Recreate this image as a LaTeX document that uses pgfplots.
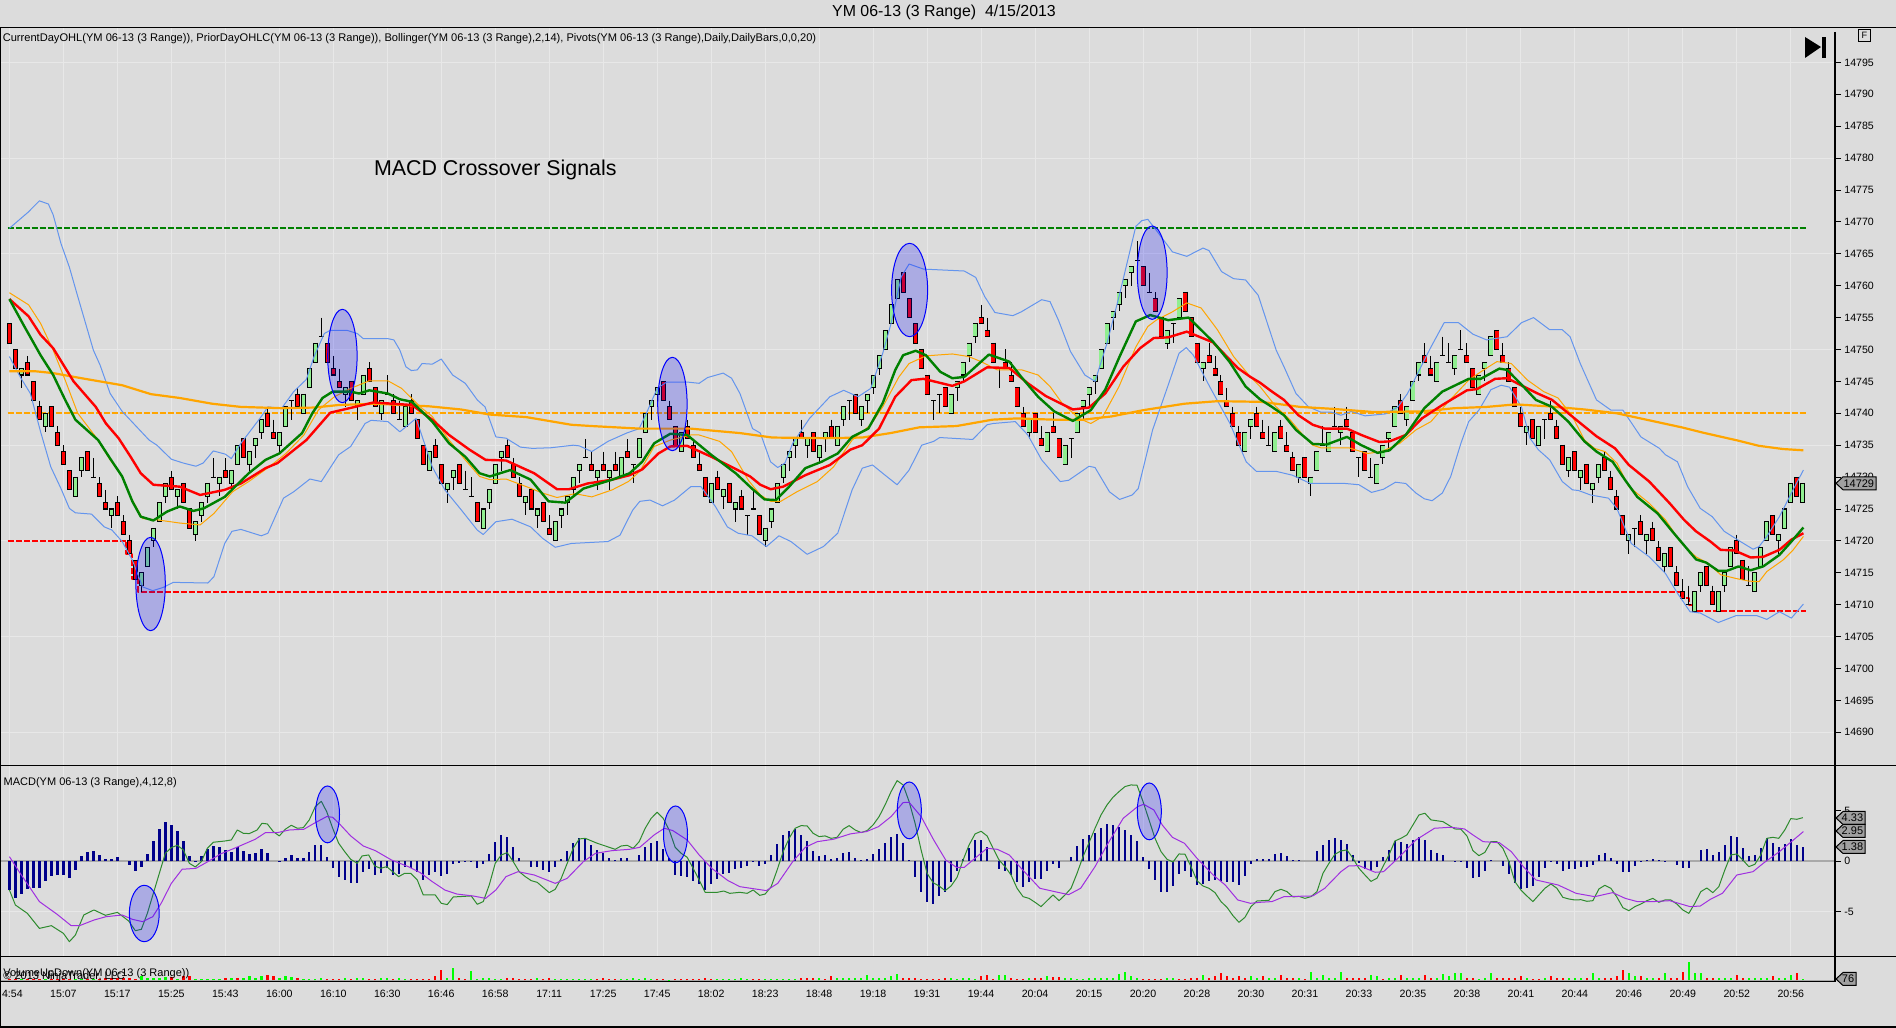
\documentclass[border=0pt]{standalone}
\usepackage{fontspec}
\setmainfont{Liberation Sans}
\usepackage{pgfplots}
\usepackage{pgfplotstable}
\pgfplotsset{compat=1.18}
\definecolor{bgc}{HTML}{DCDCDC}
\definecolor{gridc}{HTML}{E8E8E8}
\definecolor{bolc}{HTML}{6495ED}
\definecolor{orc}{HTML}{FFA500}
\definecolor{grn}{HTML}{008000}
\definecolor{upc}{HTML}{90EE90}
\definecolor{macdg}{HTML}{2E8B2E}
\definecolor{macdp}{HTML}{A030E0}
\definecolor{histc}{HTML}{00008B}
\definecolor{zeroc}{HTML}{A9A9A9}
\definecolor{tagc}{HTML}{A0A0A0}
\newcommand\fs[1]{\fontsize{#1}{#1}\selectfont}
\pgfplotstableread{
i o h l c
0 14754 14754 14751 14751
1 14750 14750 14747 14747
3 14748 14749 14746 14746
4 14745 14745 14742 14742
5 14741 14742 14739 14739
7 14741 14741 14738 14738
8 14737 14738 14735 14735
9 14734 14735 14732 14732
10 14731 14731 14728 14728
13 14734 14734 14731 14731
15 14729 14730 14727 14727
16 14726 14728 14725 14725
18 14726 14727 14724 14724
19 14723 14724 14721 14721
20 14720 14721 14718 14718
21 14717 14717 14714 14714
27 14730 14731 14728 14728
29 14729 14729 14726 14726
30 14725 14725 14722 14722
36 14731 14733 14730 14730
39 14736 14736 14733 14733
43 14740 14741 14738 14738
44 14737 14739 14736 14736
48 14743 14744 14741 14741
53 14751 14751 14748 14748
54 14747 14749 14746 14746
55 14745 14747 14744 14744
57 14745 14745 14742 14742
60 14747 14748 14745 14745
61 14744 14744 14741 14741
64 14742 14743 14740 14740
67 14742 14743 14740 14740
68 14739 14739 14736 14736
69 14735 14735 14732 14732
71 14735 14736 14733 14733
72 14732 14732 14729 14729
75 14732 14732 14729 14729
78 14726 14726 14723 14723
83 14735 14736 14733 14733
84 14732 14733 14730 14730
85 14729 14730 14727 14727
87 14728 14728 14725 14725
89 14726 14726 14723 14723
90 14722 14724 14721 14721
97 14732 14734 14731 14731
99 14732 14734 14731 14731
101 14732 14734 14731 14731
103 14734 14736 14733 14733
109 14745 14745 14742 14742
110 14741 14742 14739 14739
111 14738 14738 14735 14735
113 14738 14739 14736 14736
114 14735 14736 14733 14733
115 14732 14734 14731 14731
116 14730 14730 14727 14727
118 14730 14731 14728 14728
120 14729 14729 14726 14726
122 14727 14728 14725 14725
125 14724 14724 14721 14721
132 14737 14739 14736 14736
134 14737 14737 14734 14734
137 14738 14739 14736 14736
141 14743 14743 14740 14740
149 14762 14762 14759 14759
150 14758 14758 14755 14755
151 14754 14754 14751 14751
152 14750 14750 14747 14747
153 14746 14746 14743 14743
156 14744 14744 14741 14741
162 14755 14757 14754 14754
163 14753 14755 14752 14752
164 14751 14751 14748 14748
166 14748 14750 14747 14747
167 14746 14748 14745 14745
168 14744 14744 14741 14741
169 14740 14741 14738 14738
171 14740 14740 14737 14737
172 14736 14738 14735 14735
174 14738 14740 14737 14737
175 14736 14736 14733 14733
189 14763 14763 14760 14760
191 14758 14759 14756 14756
192 14755 14755 14752 14752
196 14759 14759 14756 14756
197 14755 14755 14752 14752
198 14751 14751 14748 14748
200 14749 14751 14748 14748
201 14747 14749 14746 14746
202 14745 14746 14743 14743
203 14742 14744 14741 14741
204 14740 14741 14738 14738
205 14737 14738 14735 14735
208 14740 14741 14738 14738
209 14737 14739 14736 14736
212 14738 14739 14736 14736
213 14735 14737 14734 14734
214 14733 14734 14731 14731
216 14733 14733 14730 14730
223 14739 14741 14738 14738
224 14737 14737 14734 14734
226 14734 14734 14731 14731
232 14742 14743 14740 14740
236 14749 14751 14748 14748
237 14747 14749 14746 14746
243 14749 14751 14748 14748
244 14747 14747 14744 14744
248 14753 14753 14750 14750
249 14749 14751 14748 14748
250 14747 14748 14745 14745
251 14744 14744 14741 14741
252 14740 14741 14738 14738
254 14739 14739 14736 14736
257 14740 14742 14739 14739
258 14738 14739 14736 14736
259 14735 14735 14732 14732
261 14734 14734 14731 14731
263 14732 14732 14729 14729
266 14733 14734 14731 14731
267 14730 14731 14728 14728
268 14727 14728 14725 14725
269 14724 14724 14721 14721
272 14723 14724 14721 14721
274 14722 14723 14720 14720
275 14719 14720 14717 14717
277 14719 14719 14716 14716
278 14715 14716 14713 14713
279 14712 14714 14711 14711
283 14716 14716 14713 14713
284 14712 14713 14710 14710
288 14720 14721 14718 14718
289 14717 14717 14714 14714
294 14724 14724 14721 14721
298 14730 14730 14727 14727
}\redbars
\pgfplotstableread{
i o h l c
2 14746 14747 14744 14747
6 14738 14740 14737 14740
11 14727 14730 14727 14730
12 14731 14733 14730 14733
17 14724 14725 14722 14725
22 14713 14715 14712 14715
23 14716 14719 14716 14719
24 14720 14722 14719 14722
25 14723 14726 14723 14726
26 14727 14729 14726 14729
28 14727 14728 14725 14728
31 14721 14723 14720 14723
32 14724 14726 14723 14726
33 14727 14729 14726 14729
35 14729 14730 14727 14730
37 14729 14731 14728 14731
38 14732 14735 14732 14735
40 14732 14734 14731 14734
41 14735 14736 14733 14736
42 14737 14739 14736 14739
45 14735 14737 14734 14737
46 14738 14741 14738 14741
49 14740 14743 14740 14743
50 14744 14747 14744 14747
51 14748 14751 14748 14751
56 14743 14744 14741 14744
58 14741 14742 14739 14742
59 14743 14746 14743 14746
62 14740 14742 14739 14742
66 14738 14741 14738 14741
70 14731 14734 14731 14734
73 14728 14729 14726 14729
74 14730 14731 14728 14731
79 14722 14725 14722 14725
80 14726 14728 14725 14728
81 14729 14732 14729 14732
82 14733 14734 14731 14734
86 14726 14727 14724 14727
88 14724 14725 14722 14725
91 14720 14723 14720 14723
92 14724 14725 14722 14725
93 14726 14727 14724 14727
94 14728 14730 14727 14730
95 14731 14732 14729 14732
98 14730 14731 14728 14731
100 14730 14731 14728 14731
102 14730 14733 14730 14733
105 14733 14736 14733 14736
106 14737 14740 14737 14740
107 14741 14742 14739 14742
108 14743 14744 14741 14744
112 14734 14737 14734 14737
117 14726 14729 14726 14729
119 14727 14728 14725 14728
121 14725 14726 14723 14726
126 14720 14722 14719 14722
127 14723 14725 14722 14725
128 14726 14729 14726 14729
129 14730 14732 14729 14732
130 14733 14734 14731 14734
131 14735 14736 14733 14736
133 14735 14736 14733 14736
135 14733 14735 14732 14735
136 14736 14737 14734 14737
138 14735 14738 14735 14738
139 14739 14741 14738 14741
142 14739 14741 14738 14741
143 14742 14743 14740 14743
144 14744 14746 14743 14746
145 14747 14749 14746 14749
146 14750 14753 14750 14753
147 14754 14757 14754 14757
148 14758 14761 14758 14761
157 14740 14743 14740 14743
158 14744 14745 14742 14745
159 14746 14748 14745 14748
160 14749 14751 14748 14751
161 14752 14754 14751 14754
170 14737 14739 14736 14739
173 14734 14737 14734 14737
176 14732 14735 14732 14735
178 14737 14740 14737 14740
179 14741 14742 14739 14742
180 14743 14744 14741 14744
181 14745 14746 14743 14746
182 14747 14750 14747 14750
183 14751 14754 14751 14754
184 14755 14756 14753 14756
185 14757 14759 14756 14759
186 14760 14761 14758 14761
187 14762 14763 14760 14763
193 14751 14753 14750 14753
195 14755 14758 14755 14758
199 14747 14748 14745 14748
206 14734 14737 14734 14737
207 14738 14739 14736 14739
211 14734 14737 14734 14737
215 14730 14732 14729 14732
217 14729 14730 14727 14730
218 14731 14734 14731 14734
220 14734 14737 14734 14737
222 14737 14738 14735 14738
228 14729 14732 14729 14732
229 14733 14735 14732 14735
230 14736 14737 14734 14737
231 14738 14741 14738 14741
233 14739 14741 14738 14741
234 14742 14745 14742 14745
235 14746 14748 14745 14748
238 14745 14748 14745 14748
241 14747 14749 14746 14749
245 14743 14746 14743 14746
246 14747 14748 14745 14748
247 14749 14752 14749 14752
253 14737 14738 14735 14738
255 14735 14738 14735 14738
260 14731 14733 14730 14733
262 14730 14731 14728 14731
264 14728 14729 14726 14729
265 14730 14732 14729 14732
270 14720 14721 14718 14721
273 14720 14721 14718 14721
276 14716 14718 14715 14718
281 14709 14712 14709 14712
282 14713 14715 14712 14715
285 14709 14712 14709 14712
286 14713 14715 14712 14715
287 14716 14719 14716 14719
291 14712 14715 14712 14715
292 14716 14719 14716 14719
293 14720 14723 14720 14723
295 14720 14721 14718 14721
296 14722 14725 14722 14725
297 14726 14729 14726 14729
299 14726 14729 14726 14729
}\greenbars
\pgfplotstableread{
i o h l c
14 14730 14733 14730 14730
34 14730 14733 14730 14730
47 14742 14742 14739 14742
52 14752 14755 14752 14752
63 14743 14746 14743 14743
65 14739 14742 14739 14739
76 14728 14731 14728 14728
77 14727 14730 14727 14727
96 14733 14736 14733 14733
104 14732 14732 14729 14732
123 14724 14724 14721 14724
124 14725 14728 14725 14725
140 14742 14742 14739 14742
154 14742 14742 14739 14742
155 14743 14743 14740 14743
165 14747 14747 14744 14747
177 14736 14736 14733 14736
188 14764 14767 14764 14764
190 14759 14762 14759 14759
194 14754 14754 14751 14754
210 14735 14738 14735 14735
219 14735 14738 14735 14735
221 14738 14741 14738 14738
225 14733 14733 14730 14733
227 14730 14733 14730 14730
239 14749 14752 14749 14749
240 14748 14751 14748 14748
242 14750 14753 14750 14750
256 14739 14739 14736 14739
271 14722 14722 14719 14722
280 14710 14713 14710 14710
290 14713 14716 14713 14713
}\dojibars
\pgfplotstableread{
x y
0 14769.0
3.1 14771.5
5 14773.3
6.5 14772.8
7.3 14771.1
8.6 14766.6
10 14762.9
11.4 14758.3
12.7 14754.1
14 14749.9
15.1 14747.6
16.8 14743.1
18.8 14740.3
20.9 14738.2
23.3 14735.8
24.6 14735.0
27 14732.8
29 14732.2
31.1 14731.7
32.3 14732.2
34 14734.1
36 14733.6
37 14732.9
38.6 14735.3
39.9 14736.9
42 14739.5
43.1 14741.0
45.4 14740.8
47.4 14743.4
49.5 14745.3
50.8 14748.9
52.5 14752.5
53.5 14753.0
56.3 14753.0
58 14752.5
59 14751.7
63.1 14751.7
64.1 14751.5
65.1 14749.9
66.1 14747.3
67 14746.7
68 14746.8
68.8 14747.8
70.5 14747.7
72 14748.5
73.9 14746.0
76 14744.7
78 14742.1
79.3 14741.0
81.1 14736.3
82.8 14736.1
85.2 14734.7
87.2 14734.5
90.3 14734.6
94 14735.0
95 14734.9
97.1 14734.0
99.8 14735.6
102.9 14736.9
105 14737.6
106.2 14740.0
108 14743.9
109.6 14744.9
113 14744.9
115 14744.7
116.4 14745.6
119 14746.3
120.4 14745.5
121.8 14743.1
123.9 14737.6
125.2 14736.9
126.9 14732.4
128.1 14731.5
129.3 14732.2
130.6 14735.3
133.4 14739.2
136.8 14742.6
139.1 14743.6
141.5 14742.6
143.6 14743.9
145.6 14749.4
147 14754.1
148.7 14761.4
150 14763.4
152.4 14762.6
159.2 14762.3
161.1 14761.3
162.6 14758.3
164.3 14755.8
167.3 14755.3
168.7 14755.9
172.1 14757.8
173.5 14757.5
174.9 14754.6
176.9 14749.7
179.3 14746.0
181 14745.0
183 14751.0
185 14758.3
187.8 14769.3
188.8 14770.2
189.8 14770.4
191.2 14768.7
193.9 14765.3
196.3 14764.6
199 14765.9
200 14765.5
202.1 14762.2
204.1 14761.1
206.1 14760.9
208.2 14758.5
211.2 14749.9
212.5 14747.3
214.5 14743.1
216.6 14741.0
218.6 14740.2
220.3 14740.2
222 14739.7
223.7 14740.3
226 14739.6
229.4 14739.9
231.5 14741.0
233.1 14743.1
234.5 14745.7
236.9 14750.2
239.2 14754.2
241.6 14754.2
244 14752.4
246.3 14751.5
249.7 14752.0
252.1 14754.2
254.1 14755.0
256.8 14753.1
258.9 14753.1
260.2 14752.0
261.9 14747.8
264.6 14742.1
267 14740.5
269 14740.5
272 14736.3
275.1 14734.5
276.1 14733.5
278.1 14732.4
279.8 14728.5
281.9 14725.1
283.9 14723.8
285.9 14721.5
288.6 14719.9
290.7 14718.7
291.7 14719.1
293 14720.7
295.1 14723.8
297.1 14727.5
299.1 14731.1
}\bolup
\pgfplotstableread{
x y
0 14748.9
1.8 14745.7
3.5 14743.1
5.2 14737.1
6.9 14731.6
8.6 14728.2
10 14725.1
11 14724.4
13.7 14724.2
15.8 14722.2
17.1 14721.7
18.8 14719.9
20.5 14717.0
22.2 14712.8
23.9 14712.2
25.6 14712.7
27.3 14713.5
33.1 14713.4
34.1 14714.4
35.9 14719.6
37.1 14721.5
38.6 14721.8
42 14720.8
43.1 14721.2
45.7 14726.7
47.4 14727.7
50.1 14729.7
52 14729.3
54.9 14733.5
56.9 14734.8
59.3 14738.4
60.3 14738.9
63.1 14738.7
65.1 14737.1
67.8 14739.2
69.2 14735.3
70.5 14731.6
72.6 14728.0
75.3 14724.9
78 14721.7
79 14721.0
81.1 14723.0
83.8 14723.4
86.9 14722.2
88.9 14720.4
91 14719.0
93.7 14719.6
99.8 14719.9
101.8 14720.9
103.9 14724.8
105.1 14726.2
106.8 14726.4
108.9 14725.5
110.9 14726.4
113.6 14728.5
115.3 14728.5
117.7 14725.4
119.7 14722.2
121.5 14721.2
123.8 14720.8
126.2 14719.1
128.3 14720.8
130.3 14719.9
133 14717.9
135.7 14719.1
138.1 14721.2
140.5 14728.0
142.2 14731.4
143.9 14731.9
145.6 14730.6
148 14728.8
150 14731.1
152.1 14735.0
154.1 14735.6
155.1 14736.2
160.6 14735.9
163 14738.2
164 14738.4
167.7 14738.7
169.8 14736.6
172.1 14732.7
175.2 14729.3
176.6 14729.5
180 14731.7
181 14731.5
183.4 14727.7
185.1 14726.5
187.2 14727.2
188.2 14728.2
190.6 14737.4
193.3 14744.7
195 14749.4
196.2 14750.3
197.4 14749.1
200.1 14744.2
203.5 14738.4
206.2 14732.4
207.9 14730.9
211.2 14730.9
213.9 14730.3
216.9 14729.0
222.7 14729.0
225 14728.8
227.1 14727.6
229.1 14728.1
231.1 14729.2
232.8 14729.0
234.5 14727.5
235.9 14726.6
237.2 14726.3
238.9 14727.5
240.3 14730.1
242 14735.3
243.3 14738.7
245 14740.5
247 14743.7
248.7 14744.4
250.1 14744.1
252.1 14741.0
253.5 14736.1
254.9 14734.3
256.8 14732.7
258.9 14729.3
260.6 14728.0
261.6 14727.9
263.6 14727.2
266.6 14726.7
268 14725.1
270.4 14719.6
273.4 14717.5
276.1 14714.9
278.1 14711.8
280.2 14708.9
281.9 14708.7
284.9 14707.2
287.9 14708.3
291.3 14708.3
293 14707.7
295.1 14708.9
297.1 14707.9
299.1 14710.1
}\bollow
\pgfplotstableread{
x y
0 14758.9
3.2 14757.0
5.2 14754.1
7.3 14749.9
9.3 14745.2
11.4 14740.0
14.4 14736.3
16.8 14732.7
18.8 14730.1
20.2 14726.9
22.2 14723.5
24.6 14723.3
28.4 14722.8
31.8 14722.5
34.1 14724.3
37.2 14727.7
39.9 14729.3
43.3 14731.6
46.1 14733.7
49.1 14736.6
51.5 14740.5
54.2 14742.6
56.9 14743.9
60 14745.1
63.1 14745.1
65.4 14743.9
68.5 14741.0
70.5 14739.5
73.3 14735.8
76 14732.7
78.4 14730.1
80.1 14729.6
82.8 14729.7
86.2 14728.5
88.9 14727.5
91.3 14726.8
94.3 14727.4
97.1 14726.9
100.5 14728.0
103.2 14729.3
105.1 14730.9
107.5 14734.8
110.2 14735.8
113.6 14736.6
115 14736.6
118.4 14735.6
120.4 14734.0
123.2 14729.5
125.2 14727.2
126.9 14726.2
128.6 14726.2
131.3 14727.7
134.7 14729.3
137.4 14731.6
140.5 14735.8
143.6 14738.2
145.6 14741.0
148.3 14745.7
150 14747.8
152.8 14749.0
157.2 14749.3
159.9 14748.9
162 14748.1
164.7 14746.8
168.8 14746.8
171.5 14746.0
173.5 14744.2
175.5 14741.6
178.3 14739.2
180.3 14738.4
182.3 14739.5
185 14744.2
187.8 14750.4
189.8 14753.6
191.2 14754.6
193.9 14755.9
196.3 14757.3
198.7 14756.5
201.4 14753.1
204.1 14748.9
206.9 14745.7
208.5 14744.2
211.2 14741.0
213.5 14739.0
215.9 14736.3
217.3 14735.0
218.6 14734.6
223.3 14734.6
226.4 14733.7
228.8 14734.0
231.8 14735.3
234.5 14737.4
237 14738.7
239.7 14741.6
243.3 14745.2
245 14746.3
246.3 14747.1
248 14748.1
250.4 14747.8
253.1 14745.2
255.8 14743.4
258.2 14742.4
260.6 14739.5
262.6 14735.8
264.3 14734.5
266 14734.0
268 14732.2
270 14728.5
273.4 14725.9
276.1 14723.3
278.8 14719.6
281.2 14717.5
283.2 14716.5
285.3 14714.7
287.9 14714.1
290 14713.7
291.7 14713.6
293 14715.2
295.7 14717.0
297.4 14718.6
299.1 14720.7
}\bolmid
\pgfplotstableread{
x y
0 14746.6
4.2 14746.6
7.3 14746.3
12 14745.5
18.8 14744.4
23.6 14743.0
28.4 14742.4
33.8 14741.5
38.6 14741.0
45.4 14740.8
50.8 14740.9
54.9 14741.3
61 14741.5
69.9 14741.1
75.3 14740.6
80.1 14739.8
86.2 14739.4
93.7 14738.2
97.1 14738.0
105.1 14737.6
113.6 14737.6
117 14737.3
121.8 14736.9
127.2 14736.2
136.1 14736.1
142.2 14736.2
146.9 14736.9
151.7 14737.8
157.9 14738.0
163.9 14739.0
168 14739.2
174.2 14739.0
179 14739.0
183.7 14739.5
189.1 14740.5
195.9 14741.5
201.4 14741.9
208.5 14741.8
211.2 14741.5
215.2 14741.0
220.6 14740.7
227.4 14740.2
235.5 14740.3
240.9 14740.8
246.3 14741.0
251.1 14741.4
256.5 14741.1
262.6 14740.6
268 14740.0
273.4 14738.9
278.8 14737.8
282.2 14737.0
288.3 14735.7
291.7 14734.9
295.7 14734.4
299.1 14734.2
}\slowavg
\pgfplotstableread{
x y
0 14757.9
3.2 14755.2
5.2 14752.3
7.3 14750.2
9 14747.6
10.7 14745.0
14.4 14741.0
16.1 14738.4
18.2 14736.1
20.2 14733.2
21.9 14730.6
24 14728.8
28.4 14728.5
31.8 14727.2
35.9 14728.0
38.6 14729.0
42.7 14731.4
44.7 14732.2
49.5 14735.8
53.5 14740.1
57.6 14741.0
60.7 14741.7
67.1 14741.3
70.5 14739.0
73.3 14736.6
76.7 14734.3
79.4 14732.7
82.8 14732.6
87.5 14730.6
91.3 14728.1
93.3 14728.1
96.4 14729.0
100.5 14729.6
103.4 14730.3
105.5 14731.2
108.2 14733.7
110.2 14734.8
113 14734.9
117 14733.2
120.4 14731.6
123.5 14730.1
125.2 14728.8
126.9 14728.1
129 14728.5
132.7 14730.3
136.8 14731.9
140.2 14734.3
142.2 14735.0
145 14737.6
147.7 14742.6
150.4 14745.2
152.4 14745.4
157.2 14744.3
159.2 14745.0
163 14747.2
166.7 14747.1
169.8 14744.7
172.8 14742.7
177.3 14740.6
180 14740.9
182.7 14743.1
185.7 14747.3
188.5 14750.2
190.8 14751.8
193.2 14751.9
196.3 14752.8
200.7 14751.1
204.8 14747.1
206.9 14745.7
208.5 14744.8
210.5 14743.4
212.5 14742.1
214.9 14739.7
217.3 14738.2
219.3 14737.6
223 14737.6
225.4 14736.6
228.4 14735.5
230.1 14735.6
232.8 14736.6
235.5 14739.2
238.9 14741.3
243 14743.6
244.7 14743.8
247.7 14745.4
249.7 14745.5
254.8 14743.1
257.2 14742.1
261.2 14739.0
264.6 14736.4
267.7 14734.5
270 14731.9
273.4 14729.3
276.8 14725.9
279.2 14723.3
281.2 14721.5
283.6 14719.9
285.3 14718.6
287.6 14718.5
290.3 14717.4
292.4 14717.5
295.1 14718.6
297.1 14720.2
299.1 14721.2
}\redavg
\pgfplotstableread{
x y
0 14757.9
2.5 14753.6
5.2 14749.1
7.3 14746.0
9.3 14742.1
11 14739.0
14.8 14735.8
16.8 14732.9
18.8 14730.1
20.5 14726.2
21.9 14723.8
24 14723.2
26.3 14724.6
28.4 14725.4
30.7 14724.7
32.4 14725.1
35.9 14726.9
39.9 14730.6
42.7 14732.7
45 14733.7
48.8 14736.9
50.5 14740.0
52.2 14742.4
53.9 14743.4
56.9 14743.4
58.3 14743.1
60 14743.6
63.1 14743.1
65.1 14742.2
67.1 14741.8
70.5 14738.7
73.3 14735.3
76 14733.2
78.4 14730.6
80.1 14730.1
83.5 14731.1
86.9 14729.6
89.9 14726.2
92.7 14726.0
95.7 14728.2
100.5 14729.6
103.4 14730.6
105.5 14732.4
107.5 14735.3
110.2 14736.8
113 14736.6
117 14733.5
121.1 14730.6
123.8 14728.2
125.9 14726.5
127.8 14726.4
130 14728.5
132.7 14731.4
135.4 14732.4
138.1 14733.7
140.5 14736.3
143.2 14737.6
145.6 14741.6
147.7 14746.8
149 14749.1
151.1 14749.8
152.8 14749.1
155.2 14746.5
157.2 14745.5
159.2 14745.7
163.3 14749.2
166.7 14748.1
168.7 14745.7
171.5 14742.6
174.2 14740.3
177.3 14738.8
180.3 14740.5
182.7 14743.7
185.1 14748.9
187.8 14754.4
190.2 14755.4
193.2 14754.6
196.6 14755.0
200.7 14751.2
203.4 14748.1
206.1 14744.2
208.5 14742.2
210.5 14741.0
212.5 14739.7
214.5 14737.4
217.3 14735.2
219.6 14735.1
223 14736.3
225.4 14735.0
228.1 14733.8
230.1 14734.2
232.8 14736.6
235.9 14740.8
238.9 14743.4
243.3 14745.4
245.3 14745.4
248.4 14747.0
249.7 14746.8
252.4 14744.2
254.5 14742.1
257.2 14741.0
259.9 14738.7
262.6 14735.6
264.6 14734.0
267.3 14732.4
269.4 14729.5
271.4 14726.9
274.8 14724.3
277.5 14721.2
281.2 14717.1
282.9 14716.6
284.9 14715.3
286.3 14715.3
288.3 14716.0
290.3 14715.4
292.4 14716.0
295.1 14717.8
297.1 14719.9
299.1 14722.1
}\greenavg
\pgfplotstableread{
i v
0 -2.85
1 -3.61
2 -3.25
3 -2.75
4 -2.65
5 -2.65
6 -1.92
7 -1.42
8 -1.36
9 -1.36
10 -1.62
11 -.86
12 .53
13 .93
14 1.03
15 .63
16 .26
17 .26
18 .43
19 0
20 -.36
21 -.93
22 -.6
23 .7
24 2.02
25 3.21
26 3.91
27 3.61
28 3.01
29 2.02
30 .53
31 .07
32 .53
33 1.19
34 1.52
35 1.39
36 1.13
37 .96
38 1.46
39 1.03
40 .76
41 .86
42 1.23
43 .79
44 0
45 -.1
46 .3
47 .63
48 .3
49 .33
50 .96
51 1.62
52 1.62
53 .4
54 -.7
55 -1.59
56 -1.85
57 -2.19
58 -2.19
59 -1.06
60 -.76
61 -1.36
62 -1.19
63 -.7
64 -1.36
65 -1.29
66 -.53
67 -.7
68 -1.03
69 -1.85
70 -1.36
71 -1.03
72 -1.46
73 -1.26
74 -.3
75 -.2
76 -.1
77 -.1
78 -.7
79 -.3
80 .73
81 1.95
82 2.62
83 2.38
84 1.46
85 .3
86 0
87 -.53
88 -.6
89 -.86
90 -1.09
91 -.6
92 .2
93 1.03
94 1.85
95 2.35
96 2.35
97 1.62
98 1.13
99 .79
100 .36
101 .13
102 .3
103 .36
104 0
105 .63
106 1.42
107 1.85
108 2.02
109 1.23
110 .3
111 -1.36
112 -1.46
113 -1.52
114 -1.95
115 -2.25
116 -2.85
117 -2.25
118 -1.75
119 -1.26
120 -1.13
121 -.76
122 -.66
123 -.46
124 -.07
125 -.43
126 -.26
127 .63
128 1.72
129 2.62
130 3.05
131 3.18
132 2.62
133 2.02
134 1.03
135 .53
136 .63
137 .23
138 .33
139 .86
140 .93
141 .3
142 .13
143 .2
144 .73
145 1.23
146 1.85
147 2.38
148 2.72
149 1.79
150 .13
151 -1.52
152 -3.01
153 -4.07
154 -4.21
155 -3.44
156 -3.01
157 -2.09
158 -.96
159 .2
160 1.32
161 2.12
162 2.12
163 1.39
164 0
165 -.73
166 -.93
167 -1.36
168 -2.02
169 -2.55
170 -2.02
171 -1.79
172 -1.72
173 -.93
174 -.26
175 -.66
176 0
177 .4
178 1.52
179 2.22
180 2.62
181 2.85
182 3.28
183 3.71
184 3.61
185 3.41
186 3.11
187 2.62
188 2.02
189 .4
190 -.76
191 -1.85
192 -3.01
193 -3.01
194 -2.45
195 -1.26
196 -.93
197 -1.52
198 -2.35
199 -2.28
200 -1.92
201 -1.85
202 -1.92
203 -2.09
204 -2.09
205 -2.35
206 -1.46
207 -.26
208 .2
209 .2
210 .2
211 .73
212 .83
213 .53
214 .1
215 .1
216 0
217 0
218 1.03
219 1.62
220 2.12
221 2.32
222 2.12
223 1.72
224 .63
225 -.2
226 -.76
227 -.96
228 -.6
229 .43
230 1.13
231 2.02
232 1.92
233 1.72
234 2.12
235 2.42
236 2.12
237 1.13
238 .83
239 .63
240 0
241 -.07
242 -.1
243 -.66
244 -1.66
245 -1.56
246 -.96
247 .1
248 0
249 -.46
250 -1.26
251 -2.15
252 -2.75
253 -2.65
254 -2.45
255 -1.56
256 -.66
257 -.07
258 -.26
259 -.96
260 -.76
261 -.76
262 -.56
263 -.56
264 -.36
265 .63
266 .83
267 .33
268 -.26
269 -1.06
270 -1.06
271 -.46
272 -.07
273 .13
274 .23
275 .13
276 .07
277 0
278 -.36
279 -.66
280 -.66
281 0
282 1.13
283 1.23
284 .63
285 .93
286 1.62
287 2.52
288 2.42
289 1.32
290 .53
291 .63
292 1.32
293 2.32
294 1.82
295 1.42
296 1.72
297 2.22
298 1.62
299 1.38
}\macdhist
\pgfplotstableread{
x y
0 -2.85
1 -4.34
3 -5.17
5 -6.66
7 -6.39
9 -7.15
10 -7.98
11 -7.32
12.4 -5.33
14.1 -4.83
16 -5.36
18 -5.07
19.9 -5.93
21 -6.89
22 -6.75
23 -5.17
24 -3.18
25 -1.19
26 .79
27 1.36
28 1.59
29 1.13
30 -.2
31 -.56
32 -.03
33 1.29
34 1.89
36 2.02
37 2.12
38 3.11
39 2.78
40 2.75
41.3 3.11
42.1 3.77
43 3.71
44 2.95
45 2.52
46 3.18
47 3.58
48 3.28
49 3.34
50 4.11
51 5.43
52 5.96
52.9 4.93
53.9 3.28
54.9 1.79
55.9 .96
56.9 .2
58 -.2
58.8 .53
59.9 .63
60.9 -.46
61.9 -.7
62.9 -.53
63.9 -1.03
64.9 -1.52
65.9 -1.19
66.9 -1.19
68 -1.85
69 -3.34
71 -3.34
72 -4.17
73 -4.3
74 -3.54
77 -3.44
78 -4.27
79 -4.0
80 -2.35
81 -.2
82 .63
83 .86
84 -.03
85 -1.03
86 -1.52
87 -1.92
88 -2.09
90 -3.11
91 -2.78
92 -1.69
93 -.2
94 1.29
95 2.22
96 2.28
98 1.79
101 1.19
102 1.52
103 1.59
104 1.29
105 1.95
106 3.28
107 4.27
108 4.87
109 4.27
110 3.11
111 1.39
112 .79
113 .4
114 -.7
115 -1.85
116 -3.08
118 -3.08
119.1 -2.95
120.1 -3.18
121.8 -3.08
123 -3.18
124 -2.85
125.1 -3.38
126 -3.25
127 -2.52
128 -.86
129 .96
130 2.28
131 3.28
132 3.54
133 3.51
134 2.78
135 2.45
136 2.52
137 2.28
138 2.38
139 3.18
140 3.54
141 3.11
142 2.85
143 3.05
144 3.61
145 4.44
146 5.6
147 6.92
148 8.01
149 7.58
150 5.93
151 3.77
152 1.13
153 -1.19
154 -2.12
155 -2.45
156 -2.91
157 -2.45
158 -1.59
159 .13
160 1.62
161 2.72
162 2.98
163 2.52
164 1.29
165 .13
166 -.53
167 -1.36
168 -2.68
169 -3.51
170 -3.68
171 -4.07
172 -4.5
173 -3.91
174 -3.34
175 -3.91
176 -3.34
177 -2.68
178 -1.19
179 .46
180 1.85
181 3.28
182 4.6
183 5.6
184 6.36
185 6.92
186 7.42
187 7.58
188 7.55
189 5.93
190 4.11
191 2.28
192 .96
193 .2
194 -.07
195 .73
196 .7
197 -.53
198 -1.92
199 -2.45
200 -2.68
201 -3.11
202 -4.0
203 -4.57
204 -5.4
205 -6.06
206 -5.56
207 -4.5
208 -3.94
210 -3.87
211 -3.01
212 -2.78
213 -3.01
214 -3.54
215 -3.48
216 -3.68
217 -3.51
218 -3.01
219 -1.19
220 -.2
221 .7
222 1.03
223 1.13
224 .3
225 -.7
226 -1.36
227 -1.99
228 -1.69
229 -.53
230 .63
231 2.02
232 2.28
233 2.62
234 3.61
235 4.6
236 4.77
237 4.11
239 3.94
241 3.21
242 3.18
243 2.52
244 1.06
245 .56
246 .89
247 1.95
248 1.95
249 1.29
250 -.03
251 -2.02
252 -2.85
253 -3.44
254 -4.0
255 -3.34
256 -2.68
257 -2.25
258 -2.68
259 -3.58
260 -3.74
261 -3.84
262 -3.81
263 -3.97
264 -3.91
265 -2.75
266 -2.38
267 -2.68
268 -3.54
269 -4.6
270 -4.9
271 -4.5
272 -4.24
273 -3.91
274 -3.68
275 -4.07
276 -3.84
277 -3.84
278 -4.24
279 -4.83
280 -5.17
281 -4.17
282 -3.01
283 -2.65
284 -3.11
285 -2.52
286 -.86
287 .63
288 .73
289 .13
290 -.53
291 -.3
292 .63
293 2.28
294 2.38
295 2.28
296 3.11
297 4.24
298 4.17
299 4.33
}\macdline
\pgfplotstableread{
x y
0 .46
1.8 -1.19
5 -4.0
7.95 -5.26
10.3 -6.39
11.7 -6.39
14.1 -5.83
16.1 -5.5
18.8 -5.33
20.5 -5.76
22.2 -5.99
23.9 -5.5
25.3 -4.17
27 -2.19
28.8 -.79
31.1 -.7
33.1 -.03
35.2 .73
37.9 1.39
41 2.19
42.7 2.85
44.7 2.85
46.7 3.11
49.1 3.18
50.8 3.77
52.9 4.44
53.9 4.37
55.2 3.61
56.9 2.52
59 1.52
61 1.06
63.7 .13
66.5 -.53
68.5 -1.13
70.5 -2.02
72.6 -2.85
74.6 -3.25
77.3 -3.44
79.4 -3.68
81.1 -2.85
82.8 -1.52
84.8 -1.03
87.5 -1.36
91 -2.19
93 -1.69
95.7 -.03
97.7 .79
100.5 1.06
103.4 1.19
105.1 1.39
107.5 2.62
109.2 3.28
110.6 3.05
113 2.12
115 .63
117.1 -.7
119.8 -1.92
121.8 -2.52
126.2 -2.91
128.1 -2.19
130.6 -.03
132.7 1.39
134.7 1.95
137.4 2.19
140.2 2.72
142.9 2.95
144.9 3.44
147 4.44
149 5.83
150 5.86
152 4.44
154.1 2.12
156.1 .13
157.9 -.6
159.2 -.6
161.3 .46
163 1.29
164.7 1.19
166.7 .63
168.7 -.7
171.8 -2.68
174.8 -3.08
176.6 -3.31
178.6 -2.68
181 -.53
183 1.62
185.7 4.27
188.1 5.43
189.1 5.66
190.8 5.1
192.2 3.61
193.9 2.38
195.9 1.79
198 .3
200.7 -1.36
202.7 -2.35
204.8 -3.84
206.9 -4.17
208.5 -4.07
210.5 -4.0
212.5 -3.51
217.3 -3.44
219.3 -2.68
222 -1.03
223.3 -.46
225 -.43
227.7 -1.09
229.1 -1.03
231.5 .3
234.5 2.12
237.6 3.28
240.3 3.38
242.6 3.21
244 2.62
245.7 1.95
248.4 1.85
250.4 .96
252.4 -.53
254.5 -1.85
258.2 -2.35
261.2 -3.18
264.3 -3.51
267.3 -3.11
269.4 -3.68
271.4 -4.0
274.1 -4.0
276.8 -3.91
280.2 -4.5
281.9 -4.44
283.6 -3.77
285.6 -3.18
288 -1.36
290.7 -1.03
292.4 -.2
295.1 .96
297.1 1.95
299.1 2.95
}\macdsignal
\pgfplotstableread{
i v
0 75
1 75
3 75
4 75
5 75
7 75
8 75
9 75
10 75
13 75
15 75
16 200
17 200
18 200
19 150
20 150
21 100
27 250
29 350
30 300
36 200
38 200
43 375
44 325
48 175
53 75
54 75
55 75
57 75
60 75
61 75
64 75
67 75
68 75
69 75
70 75
71 300
72 750
75 150
76 75
83 200
84 150
85 75
86 75
87 75
89 75
90 200
98 75
99 150
100 75
101 75
108 75
109 75
111 75
112 75
113 75
114 75
115 75
116 150
117 75
124 75
125 75
132 150
133 150
134 150
136 75
137 300
149 150
150 150
151 150
152 75
153 75
154 75
155 75
156 150
162 300
163 375
164 75
167 150
168 75
169 75
171 150
172 150
174 250
175 250
189 75
190 75
191 75
192 75
195 75
196 75
197 150
198 150
200 150
201 300
202 525
203 300
204 200
205 300
206 150
209 300
212 375
213 150
214 200
216 125
223 150
224 200
225 150
226 150
229 75
232 375
236 375
237 150
243 200
244 150
248 150
249 150
250 200
251 200
252 300
254 125
255 75
257 300
258 200
259 200
263 200
266 200
267 200
268 300
269 750
272 300
275 150
277 150
278 200
279 600
283 200
284 200
288 375
289 200
294 300
298 525
}\volred
\pgfplotstableread{
i v
2 75
6 75
11 75
12 75
14 75
22 300
23 150
24 150
25 200
26 250
28 125
31 75
32 75
33 125
34 125
35 75
37 150
39 150
40 300
41 200
42 350
45 175
46 300
47 225
49 75
50 75
51 75
52 150
56 150
58 150
59 200
62 150
63 200
65 150
66 75
73 150
74 900
77 675
78 125
79 200
80 200
81 125
82 75
88 150
91 75
92 75
93 75
94 75
95 75
96 75
97 75
102 75
103 75
104 150
105 75
106 150
107 75
110 25
118 75
119 125
120 75
121 125
122 150
123 125
126 125
127 75
128 75
129 75
130 75
131 75
135 200
138 200
139 150
140 200
141 150
142 200
143 375
144 150
145 200
146 150
147 300
148 450
157 150
158 75
159 150
160 200
161 75
165 375
166 375
170 200
173 300
176 150
177 150
178 75
179 75
180 150
181 200
182 200
183 200
184 200
185 450
186 600
187 300
188 200
193 150
194 150
199 375
207 300
208 200
210 200
211 150
215 200
217 600
218 150
219 375
220 150
221 150
222 600
227 375
228 300
230 200
231 150
233 200
234 200
235 200
238 150
239 450
240 300
241 525
242 525
245 75
246 150
247 525
253 200
256 200
260 150
261 150
262 200
264 525
265 200
270 525
271 300
273 150
274 200
276 525
280 1375
281 525
282 525
285 150
286 150
287 200
290 200
291 150
292 150
293 150
295 150
296 200
297 375
299 75
}\volgreen
\newcommand{\candles}[4]{%
 \addplot[draw=none,mark=none,forget plot,error bars/.cd,y dir=minus,y explicit,error mark=none,error bar style={line width=0.5pt,draw=black,solid}]
   table[x=i,y=h,y error minus expr=\thisrow{h}-\thisrow{l}] {#1};
 \addplot[draw=none,mark=none,forget plot,error bars/.cd,y dir=minus,y explicit,error mark=none,error bar style={line width=2.5pt,draw=black,solid}]
   table[x=i,y expr=\thisrow{#2}+0.08,y error minus expr=\thisrow{#2}-\thisrow{#3}+0.16] {#1};
 \addplot[draw=none,mark=none,forget plot,error bars/.cd,y dir=minus,y explicit,error mark=none,error bar style={line width=1.6pt,draw=#4,solid}]
   table[x=i,y expr=\thisrow{#2}-0.08,y error minus expr=\thisrow{#2}-\thisrow{#3}-0.16] {#1};
}
\pgfplotsset{panel/.style={
  scale only axis,anchor=south west,width=917.5pt,xmin=-1.567,xmax=304.37,
  axis line style={draw=none},
  xtick={0,9,...,297},xticklabels={},xtick style={draw=none},
  xmajorgrids=true,major grid style={gridc,line width=0.5pt},
  ymajorgrids=false,
  ytick pos=right,yticklabel pos=right,tick align=outside,major tick length=3pt,
  ytick style={black,line width=0.5pt},
  tick label style={font=\fs{5.3}},
  yticklabel style={inner sep=0pt,anchor=west,xshift=1.5pt},
  every axis plot/.append style={line join=round},
  clip=true,
  scaled ticks=false,
  /pgf/number format/.cd,fixed,precision=0,1000 sep={},assume math mode=true,
}}
\begin{document}
\begin{tikzpicture}
\fill[bgc] (0,0) rectangle (948pt,514pt);
\useasboundingbox (0,0) rectangle (948pt,514pt);
% price panel
\begin{axis}[panel,at={(0pt,131.35pt)},height=369pt,ymin=14684.83,ymax=14800.5,
  ytick={14690,14695,...,14795},
  extra y ticks={14690,14705,14720,14735,14750,14765,14780,14795},
  extra y tick labels={},
  extra y tick style={grid=major,tick style={draw=none}}]
\addplot[grn,line width=1.1pt,dash pattern=on 3pt off 1pt,forget plot] coordinates {(-0.3,14769) (299.5,14769)};
\addplot[orc,line width=1.1pt,dash pattern=on 3pt off 1pt,forget plot] coordinates {(-0.3,14740) (299.5,14740)};
\addplot[red,line width=1.1pt,dash pattern=on 3pt off 1pt,forget plot] coordinates {(-0.3,14720) (19.5,14720) (19.5,14718) (20.5,14718) (20.5,14714) (21.5,14714) (21.5,14712) (279,14712) (279,14711) (280,14711) (280,14710) (281,14710) (281,14709) (299.5,14709)};
\candles{\redbars}{o}{c}{red}
\candles{\greenbars}{c}{o}{upc}
\addplot[draw=none,mark=none,forget plot,error bars/.cd,y dir=minus,y explicit,error mark=none,error bar style={line width=0.5pt,draw=black,solid}]
   table[x=i,y=h,y error minus expr=\thisrow{h}-\thisrow{l}] {\dojibars};
\addplot[draw=none,mark=none,forget plot,error bars/.cd,y dir=minus,y explicit,error mark=none,error bar style={line width=2.5pt,draw=black,solid}]
   table[x=i,y expr=\thisrow{o}+0.08,y error minus expr=0.16] {\dojibars};
\addplot[bolc,line width=0.5pt,forget plot] table[x=x,y=y] {\bolup};
\addplot[bolc,line width=0.5pt,forget plot] table[x=x,y=y] {\bollow};
\addplot[orc,line width=0.5pt,forget plot] table[x=x,y=y] {\bolmid};
\addplot[orc,line width=1.1pt,forget plot] table[x=x,y=y] {\slowavg};
\addplot[red,line width=1.2pt,forget plot] table[x=x,y=y] {\redavg};
\addplot[grn,line width=1.2pt,forget plot] table[x=x,y=y] {\greenavg};
\end{axis}
% MACD panel
\begin{axis}[panel,at={(0pt,35.85pt)},height=95.5pt,ymin=-9.43,ymax=9.53,
  ytick={-5,0,5},yticklabels={-5,0,5},
  extra y ticks={-5},extra y tick labels={},
  extra y tick style={grid=major,tick style={draw=none}}]
\addplot[zeroc,line width=0.8pt,forget plot] coordinates {(-1.567,0) (304.37,0)};
\addplot[ycomb,histc,line width=1.2pt,mark=none,forget plot] table[x=i,y=v] {\macdhist};
\addplot[macdg,line width=0.5pt,forget plot] table[x=x,y=y] {\macdline};
\addplot[macdp,line width=0.5pt,forget plot] table[x=x,y=y] {\macdsignal};
\end{axis}
% volume panel
\begin{axis}[panel,at={(0pt,23.15pt)},height=12.7pt,ymin=-90,ymax=1815,
  ytick=\empty,xmajorgrids=false,
  xtick style={black,line width=0.5pt},
  xticklabels={\phantom{1}4:54,15:07,15:17,15:25,15:43,16:00,16:10,16:30,16:46,16:58,17:11,17:25,17:45,18:02,18:23,18:48,19:18,19:31,19:44,20:04,20:15,20:20,20:28,20:30,20:31,20:33,20:35,20:38,20:41,20:44,20:46,20:49,20:52,20:56},
  xticklabel style={inner sep=0pt,yshift=-1.2pt}]
\addplot[zeroc,line width=0.8pt,forget plot] coordinates {(-1.567,-20) (304.37,-20)};
\addplot[ycomb,red,line width=1.2pt,mark=none,forget plot] table[x=i,y=v] {\volred};
\addplot[ycomb,green,line width=1.2pt,mark=none,forget plot] table[x=i,y=v] {\volgreen};
\end{axis}
% annotations in pixel coordinates
\begin{scope}[shift={(0,514pt)},x=0.5pt,y=-0.5pt]
\draw[black,line width=0.6pt] (0,27.3)--(1896,27.3);
\draw[black,line width=0.6pt] (0,765.3)--(1896,765.3);
\draw[black,line width=0.6pt] (0,956.3)--(1896,956.3);
\draw[black,line width=0.6pt] (0,1027)--(1896,1027);
\draw[black,line width=0.6pt] (0.3,27.3)--(0.3,1027);
\draw[black,line width=0.6pt] (1835,32)--(1835,981.7);
\draw[black,line width=0.6pt] (0,981.7)--(1835,981.7);
\foreach \cx/\cy/\rx/\ry in {150.6/584/14.7/46.7,342.4/356/14.7/46.7,672.4/404/14.7/46.7,909.6/290/18/46.7,1152.2/272.7/14.9/46.7,144.3/913.5/14.9/28.2,327.5/814.4/12/28.4,675.5/834.4/12/28.4,909.3/810.4/12/28.4,1149.3/811.4/12/28.4}
  {\fill[blue,fill opacity=0.22] (\cx,\cy) ellipse [x radius=\rx,y radius=\ry];
   \draw[blue,line width=0.5pt] (\cx,\cy) ellipse [x radius=\rx,y radius=\ry];}
\node[anchor=center,inner sep=0pt] at (944,12.5) {\fs{7.95}YM 06-13 (3 Range)\ \ 4/15/2013};
\node[anchor=west,inner sep=0pt] at (2.4,39) {\fs{5.55}CurrentDayOHL(YM 06-13 (3 Range)), PriorDayOHLC(YM 06-13 (3 Range)), Bollinger(YM 06-13 (3 Range),2,14), Pivots(YM 06-13 (3 Range),Daily,DailyBars,0,0,20)};
\node[anchor=west,inner sep=0pt] at (373.6,170) {\fs{10.7}MACD Crossover Signals};
\node[anchor=west,inner sep=0pt] at (3.3,783) {\fs{5.5}MACD(YM 06-13 (3 Range),4,12,8)};
\node[anchor=west,inner sep=0pt] at (3,974) {\fs{5.5}VolumeUpDown(YM 06-13 (3 Range))};
\node[anchor=west,inner sep=0pt] at (3,976.5) {\fs{5.5}© 2013 NinjaTrader, LLC};
\fill[black] (1805,37)--(1821,47)--(1805,58)--cycle;
\fill[black] (1821.7,36.7) rectangle (1826,57.7);
\draw[black,line width=0.5pt] (1858.3,29.3) rectangle (1870.7,41.7);
\node[inner sep=0pt] at (1864.5,35.5) {\fs{4.6}F};
\foreach \ty/\xr/\lab in {483.3/1876/14729,818/1865/4.33,831/1865/2.95,847/1865/1.38,979/1856/76}
  {\filldraw[fill=tagc,draw=black,line width=0.5pt] (1836,\ty)--(1843,\ty-6.5)--(\xr,\ty-6.5)--(\xr,\ty+6.5)--(1843,\ty+6.5)--cycle;
   \node[anchor=east,inner sep=0pt] at (\xr-1.5,\ty) {\fs{5.5}\lab};}
\end{scope}
\end{tikzpicture}
\end{document}
